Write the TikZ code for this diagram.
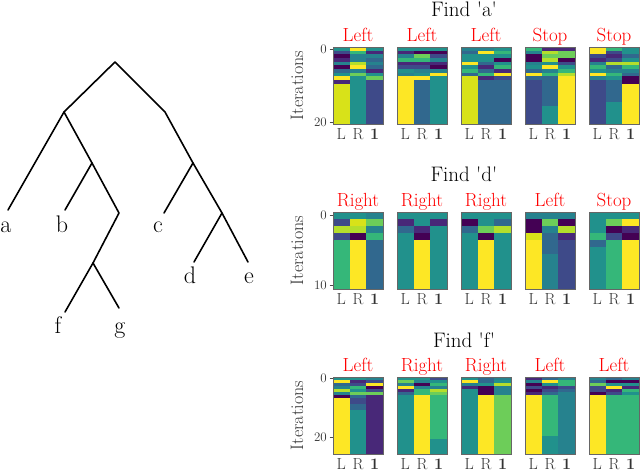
\documentclass[tikz,border=0pt]{standalone}
\usepackage{tikz}
\usetikzlibrary{positioning}

\definecolor{v0}{HTML}{440154}
\definecolor{v1}{HTML}{482878}
\definecolor{v2}{HTML}{3E4A89}
\definecolor{v3}{HTML}{31688E}
\definecolor{v4}{HTML}{26828E}
\definecolor{v5}{HTML}{21918C}
\definecolor{v6}{HTML}{35B779}
\definecolor{v7}{HTML}{6DCD59}
\definecolor{v8}{HTML}{B4DE2C}
\definecolor{v9}{HTML}{FDE725}
\definecolor{vy}{HTML}{D8E219}

\tikzset{
  treeline/.style={line width=1.6pt, line cap=round, line join=round},
  leaf/.style={anchor=base, inner sep=0pt, font=\fontsize{24}{28}\selectfont},
  title/.style={anchor=base, inner sep=0pt, font=\fontsize{21}{25}\selectfont},
  move/.style={anchor=base, inner sep=0pt, text=red, font=\fontsize{19}{23}\selectfont},
  collab/.style={anchor=base, inner sep=0pt, text=black!80, font=\fontsize{16}{19}\selectfont},
  ticklab/.style={anchor=east, inner sep=0pt, text=black!80, font=\fontsize{13}{16}\selectfont},
  ylab/.style={rotate=90, inner sep=0pt, text=black!80, font=\fontsize{18}{22}\selectfont},
  frame/.style={draw=black!60, line width=0.6pt},
  tickmark/.style={draw=black!70, line width=0.6pt}
}

\newcommand{\heatcol}[4]{
  \foreach \c/\n [evaluate=\n as \ya using \yb+\n, remember=\ya as \yb (initially 0)] in {#4}
    \fill[v\c] (#1,{#2+\yb*#3}) rectangle ({#1+50/3},{#2+\ya*#3});
}

\newcommand{\heatmap}[7]{
  \pgfmathsetmacro{\cellh}{77/#3}
  \heatcol{#1}{#2}{\cellh}{#5}
  \heatcol{#1+50/3}{#2}{\cellh}{#6}
  \heatcol{#1+100/3}{#2}{\cellh}{#7}
  \draw[frame] (#1,#2) rectangle ({#1+50},{#2+77});
  \node[move] at ({#1+25},{#2-5.3}) {#4};
  \node[collab] at ({#1+25/3},{#2+92}) {L};
  \node[collab] at ({#1+25},{#2+92}) {R};
  \node[collab] at ({#1+125/3},{#2+92}) {\textbf{1}};
}

\newcommand{\rowaxis}[3]{
  \node[ylab] at (297,{#1+38.5}) {Iterations};
  \foreach \t in {0,#3}{
    \draw[tickmark] (329.5,{#1+(\t+0.5)*77/#2}) -- (333,{#1+(\t+0.5)*77/#2});
    \node[ticklab] at (327,{#1+(\t+0.5)*77/#2}) {\t};
  }
}

\begin{document}
\begin{tikzpicture}[x=1pt,y=-1pt]
  \useasboundingbox (0,0) rectangle (640,471);

  \coordinate (root) at (115,62);
  \coordinate (nl) at (64,112);
  \coordinate (nr) at (165,112);
  \coordinate (nlr) at (92,163);
  \coordinate (nlrr) at (119,213);
  \coordinate (nlrrl) at (93,263);
  \coordinate (nrl) at (193,163);
  \coordinate (nrlr) at (222,213);
  \coordinate (ea) at (8,210);
  \coordinate (eb) at (65,210);
  \coordinate (ec) at (164,213);
  \coordinate (ed) at (194,262);
  \coordinate (ee) at (248,262);
  \coordinate (ef) at (65,312);
  \coordinate (eg) at (119,308);

  \draw[treeline] (ea) -- (nl) -- (root) -- (nr) -- (nrl) -- (nrlr) -- (ee);
  \draw[treeline] (nl) -- (nlr) -- (nlrr) -- (nlrrl) -- (ef);
  \draw[treeline] (nlr) -- (eb);
  \draw[treeline] (nlrrl) -- (eg);
  \draw[treeline] (nrl) -- (ec);
  \draw[treeline] (nrlr) -- (ed);

  \node[leaf] (a) at (6,232) {a};
  \node[leaf] (b) at (62,232) {b};
  \node[leaf] (c) at (158,232) {c};
  \node[leaf] (d) at (190,283) {d};
  \node[leaf] (e) at (249,283) {e};
  \node[leaf] (f) at (58,333) {f};
  \node[leaf] (g) at (120,333) {g};

  \node[title] (finda) at (464,16.7) {Find \textquotesingle a\textquotesingle};
  \rowaxis{47}{21}{20}
  \heatmap{333}{47}{21}{Left}
    {5/1,2/1,0/1,1/1,4/1,0/1,3/1,5/1,9/1,1/1,y/11}
    {9/1,6/1,4/2,8/1,9/1,4/1,7/1,5/13}
    {5/1,1/1,4/1,3/1,4/1,3/1,1/1,5/1,7/1,2/12}
  \heatmap{397}{47}{21}{Left}
    {5/1,1/1,4/1,6/1,1/1,2/1,5/1,4/1,9/13}
    {5/1,0/1,7/1,6/1,1/1,2/1,4/1,5/1,9/1,3/12}
    {5/1,0/1,2/1,4/1,1/1,0/1,4/1,9/1,5/13}
  \heatmap{461}{47}{21}{Left}
    {4/1,3/1,5/2,9/1,5/1,6/1,3/1,y/13}
    {4/1,9/1,5/2,3/1,1/1,3/1,6/1,1/1,3/12}
    {5/1,6/1,5/1,0/1,5/1,6/1,1/1,9/1,2/1,3/12}
  \heatmap{525}{47}{21}{Stop}
    {6/1,4/1,0/2,4/1,5/1,3/1,9/1,3/1,2/12}
    {1/1,8/1,7/1,8/1,5/1,9/1,4/1,6/1,3/8,5/5}
    {1/1,7/2,0/1,2/1,5/1,6/1,8/1,9/13}
  \heatmap{589}{47}{21}{Stop}
    {9/2,2/1,1/1,4/1,6/1,5/1,9/1,4/1,2/12}
    {6/1,2/1,1/1,2/1,8/1,3/1,4/1,6/1,5/1,3/6,5/6}
    {5/2,3/1,5/1,8/1,6/1,4/1,3/1,0/2,9/11}

  \node[title] (findd) at (464,181.7) {Find \textquotesingle d\textquotesingle};
  \rowaxis{212}{11}{10}
  \heatmap{333}{212}{11}{Right}
    {5/1,2/1,8/1,2/1,6/7}
    {5/1,y/1,8/1,0/1,9/7}
    {4/1,7/1,4/1,6/1,3/7}
  \heatmap{397}{212}{11}{Right}
    {5/1,1/1,3/1,5/8}
    {5/2,1/1,0/1,9/7}
    {5/1,1/1,5/9}
  \heatmap{461}{212}{11}{Right}
    {5/1,0/1,3/1,5/8}
    {5/2,7/1,0/1,9/7}
    {5/1,3/1,8/1,5/8}
  \heatmap{525}{212}{11}{Left}
    {4/1,0/2,y/1,9/7}
    {4/1,7/1,4/1,3/3,4/5}
    {4/1,0/1,8/1,1/1,2/7}
  \heatmap{589}{212}{11}{Stop}
    {5/3,6/1,3/1,5/6}
    {5/1,7/1,0/1,2/1,6/7}
    {5/1,9/1,1/1,0/1,9/7}

  \node[title] (findf) at (464,347.3) {Find \textquotesingle f\textquotesingle};
  \rowaxis{377}{26}{20}
  \heatmap{333}{377}{26}{Left}
    {5/1,9/1,3/1,4/1,8/1,4/1,0/1,9/19}
    {5/1,1/1,2/1,6/1,5/1,7/1,3/1,2/2,3/2,5/15}
    {4/1,2/1,9/1,0/1,2/1,7/1,1/20}
  \heatmap{397}{377}{26}{Right}
    {5/1,7/1,4/1,9/1,1/1,3/1,5/20}
    {5/1,4/1,0/1,4/1,6/2,9/20}
    {2/1,5/1,6/1,4/1,8/1,7/1,6/15,5/5}
  \heatmap{461}{377}{26}{Right}
    {5/1,9/1,4/1,1/1,5/22}
    {3/2,5/1,0/3,9/20}
    {4/1,5/1,8/1,4/3,7/20}
  \heatmap{525}{377}{26}{Left}
    {1/1,4/1,0/1,2/1,0/1,1/1,9/20}
    {3/1,9/1,5/1,1/1,2/1,3/1,6/14,5/6}
    {4/1,6/2,2/1,3/1,4/21}
  \heatmap{589}{377}{26}{Left}
    {4/1,3/1,7/1,2/2,0/1,9/20}
    {3/1,0/1,5/1,9/1,1/1,2/1,6/20}
    {4/1,0/1,5/1,1/1,6/1,5/1,6/20}
\end{tikzpicture}
\end{document}
